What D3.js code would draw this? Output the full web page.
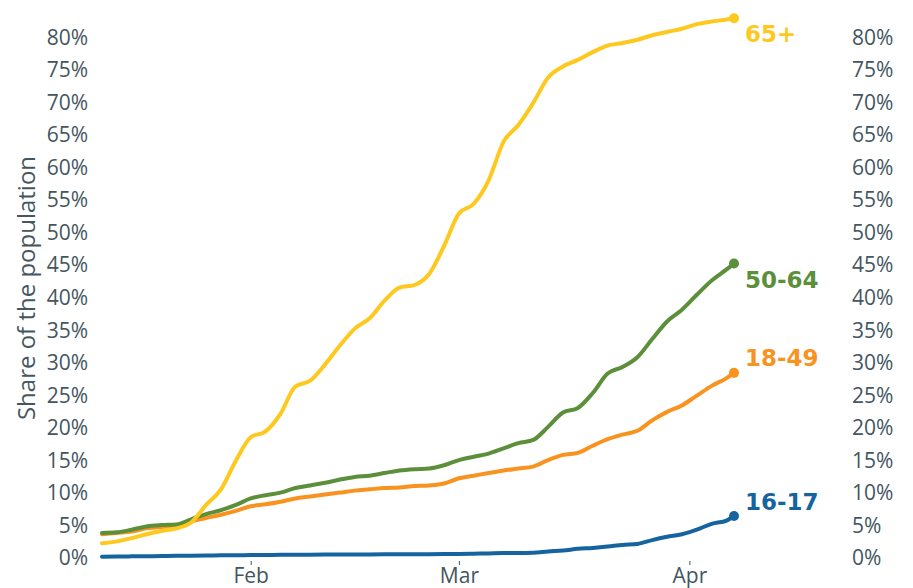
<!DOCTYPE html>
<html lang="en">
<head>
<meta charset="utf-8">
<script src="https://d3js.org/d3.v7.min.js"></script>
<style type="text/css">
body { margin: 0; background: #fff; }
.axis text {
	font: 21px "Open Sans", sans-serif;
	fill: #44565f;
}
.axis path { display: none; }
.axis line { stroke: #44565f; }
.ylabel {
	font: 24px "Open Sans", sans-serif;
	fill: #44565f;
}
.series-label {
	font: bold 23px "DejaVu Sans", sans-serif;
}
path.line {
	fill: none;
	stroke-width: 4;
	stroke-linejoin: round;
	stroke-linecap: round;
}
</style>
</head>
<body>
<div id="chart"></div>
<script type="text/javascript">

// dates (every second day, plus the last one)
var dates = ["2021-01-12","2021-01-14","2021-01-16","2021-01-18","2021-01-20","2021-01-22",
  "2021-01-24","2021-01-26","2021-01-28","2021-01-30","2021-02-01","2021-02-03","2021-02-05",
  "2021-02-07","2021-02-09","2021-02-11","2021-02-13","2021-02-15","2021-02-17","2021-02-19",
  "2021-02-21","2021-02-23","2021-02-25","2021-02-27","2021-03-01","2021-03-03","2021-03-05",
  "2021-03-07","2021-03-09","2021-03-11","2021-03-13","2021-03-15","2021-03-17","2021-03-19",
  "2021-03-21","2021-03-23","2021-03-25","2021-03-27","2021-03-29","2021-03-31","2021-04-02",
  "2021-04-04","2021-04-06","2021-04-07"];

// share of the population, %
var age65plus = [2.1, 2.4, 2.9, 3.5, 4.0, 4.4, 5.3, 8.0, 10.4, 14.8, 18.4, 19.3, 22.0, 26.2, 27.1,
  29.6, 32.5, 35.1, 36.7, 39.4, 41.4, 41.8, 43.5, 47.8, 52.8, 54.3, 57.9, 63.8, 66.4, 69.8, 73.7,
  75.4, 76.4, 77.6, 78.6, 79.0, 79.5, 80.2, 80.7, 81.2, 81.9, 82.3, 82.6, 82.8];
var age50to64 = [3.7, 3.8, 4.2, 4.7, 4.9, 5.0, 5.8, 6.6, 7.2, 8.0, 9.0, 9.5, 9.9, 10.6, 11.0,
  11.4, 11.9, 12.3, 12.5, 12.9, 13.3, 13.5, 13.6, 14.1, 14.9, 15.4, 15.9, 16.7, 17.5, 18.0, 20.0,
  22.2, 22.9, 25.2, 28.2, 29.2, 30.7, 33.5, 36.2, 38.0, 40.3, 42.5, 44.2, 45.1];
var age18to49 = [3.5, 3.7, 3.9, 4.4, 4.6, 4.9, 5.5, 6.0, 6.5, 7.1, 7.8, 8.1, 8.5, 9.0, 9.3,
  9.6, 9.9, 10.2, 10.4, 10.6, 10.7, 10.9, 11.0, 11.3, 12.1, 12.5, 12.9, 13.3, 13.6, 13.9, 14.9,
  15.7, 16.0, 17.1, 18.1, 18.8, 19.4, 21.0, 22.3, 23.3, 24.8, 26.3, 27.5, 28.3];
var age16to17 = [0.05, 0.07, 0.1, 0.12, 0.15, 0.18, 0.2, 0.22, 0.25, 0.27, 0.3, 0.32, 0.33, 0.35, 0.36,
  0.37, 0.38, 0.39, 0.4, 0.41, 0.42, 0.43, 0.44, 0.45, 0.46, 0.5, 0.55, 0.6, 0.62, 0.66, 0.85,
  1.0, 1.25, 1.4, 1.6, 1.85, 2.0, 2.6, 3.1, 3.5, 4.2, 5.1, 5.6, 6.3];

var seriesNames = ["16-17", "18-49", "50-64", "65+"];
var seriesColors = ["#15649f", "#f7931e", "#5c8f3a", "#fec91f"];
var yTicks = [0, 5, 10, 15, 20, 25, 30, 35, 40, 45, 50, 55, 60, 65, 70, 75, 80];
var xTickDates = ["2021-02-01", "2021-03-01", "2021-04-01"];
var xTickLabels = ["Feb", "Mar", "Apr"];

var width = 913, height = 588;
var parse = d3.timeParse("%Y-%m-%d");

var x = d3.scaleTime()
  .domain([parse(dates[0]), parse(dates[dates.length - 1])])
  .range([102, 734]);

var y = d3.scaleLinear()
  .domain([0, 80])
  .range([557, 36.5]);

var svg = d3.select("#chart")
  .append("svg")
  .attr("width", width)
  .attr("height", height);

// left and right percentage axes
var fmt = function(d) { return d + "%"; };

svg.append("g")
  .attr("class", "axis")
  .attr("transform", "translate(88,1)")
  .call(d3.axisLeft(y).tickValues(yTicks).tickFormat(fmt).tickSize(0).tickPadding(0));

svg.append("g")
  .attr("class", "axis")
  .attr("transform", "translate(852,1)")
  .call(d3.axisRight(y).tickValues(yTicks).tickFormat(fmt).tickSize(0).tickPadding(0));

// month axis
var xAxis = svg.append("g")
  .attr("class", "axis")
  .attr("transform", "translate(0,561)")
  .call(d3.axisBottom(x)
    .tickValues(xTickDates.map(parse))
    .tickFormat(function(d, i) { return xTickLabels[i]; })
    .tickSize(4)
    .tickPadding(3));
xAxis.selectAll("text").attr("dy", "0.71em");

svg.append("text")
  .attr("class", "ylabel")
  .attr("transform", "translate(35,288) rotate(-90)")
  .attr("text-anchor", "middle")
  .text("Share of the population");

var all = [age16to17, age18to49, age50to64, age65plus];
var labelDy = [-14, -15, 16, 16];

var line = d3.line()
  .x(function(d, i) { return x(parse(dates[i])); })
  .y(function(d) { return y(d); })
  .curve(d3.curveMonotoneX);

all.forEach(function(vals, k) {
  svg.append("path")
    .attr("class", "line")
    .attr("d", line(vals))
    .style("stroke", seriesColors[k]);

  var last = vals.length - 1;
  var ex = x(parse(dates[last])), ey = y(vals[last]);

  svg.append("circle")
    .attr("cx", ex)
    .attr("cy", ey)
    .attr("r", 5)
    .style("fill", seriesColors[k]);

  svg.append("text")
    .attr("class", "series-label")
    .attr("x", ex + 11)
    .attr("y", ey + labelDy[k])
    .attr("dy", "0.35em")
    .style("fill", seriesColors[k])
    .text(seriesNames[k]);
});

</script>
</body>
</html>
